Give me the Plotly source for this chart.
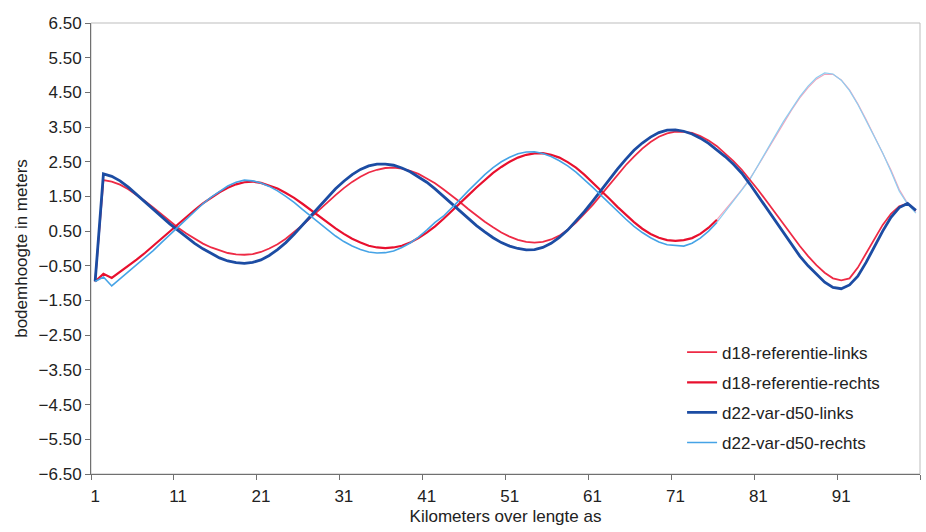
import plotly.graph_objects as go

km = list(range(1, 101))

d18_referentie_links = [
    -0.95, 1.97, 1.93, 1.84, 1.71, 1.55, 1.37, 1.18, 0.98, 0.79,
    0.60, 0.43, 0.28, 0.14, 0.03, -0.06, -0.13, -0.17, -0.18, -0.16,
    -0.10, 0.00, 0.12, 0.28, 0.47, 0.67, 0.89, 1.11, 1.33, 1.54,
    1.74, 1.92, 2.07, 2.19, 2.27, 2.32, 2.33, 2.30, 2.24, 2.15,
    2.02, 1.88, 1.71, 1.53, 1.34, 1.14, 0.95, 0.77, 0.61, 0.46,
    0.34, 0.25, 0.19, 0.17, 0.19, 0.26, 0.37, 0.54, 0.75, 0.99,
    1.25, 1.54, 1.83, 2.12, 2.40, 2.65, 2.88, 3.07, 3.22, 3.32,
    3.37, 3.36, 3.33, 3.24, 3.11, 2.95, 2.74, 2.52, 2.27, 1.98,
    1.68, 1.36, 1.03, 0.70, 0.38, 0.07, -0.22, -0.48, -0.70, -0.86,
    -0.92, -0.86, -0.55, -0.15, 0.28, 0.68, 1.00, 1.22, 1.30, 1.10,
]

d18_referentie_rechts = [
    -0.95, -0.73, -0.85, -0.68, -0.50, -0.32, -0.13, 0.07, 0.28, 0.49,
    0.70, 0.91, 1.11, 1.30, 1.47, 1.62, 1.75, 1.85, 1.91, 1.93,
    1.89, 1.82, 1.73, 1.60, 1.46, 1.29, 1.11, 0.93, 0.75, 0.58,
    0.42, 0.28, 0.17, 0.08, 0.03, 0.01, 0.03, 0.08, 0.17, 0.30,
    0.46, 0.64, 0.85, 1.07, 1.30, 1.53, 1.76, 1.98, 2.18, 2.35,
    2.50, 2.62, 2.70, 2.74, 2.75, 2.70, 2.62, 2.49, 2.33, 2.13,
    1.91, 1.68, 1.44, 1.20, 0.97, 0.76, 0.57, 0.42, 0.31, 0.24,
    0.22, 0.24, 0.30, 0.42, 0.60, 0.83, 1.10, 1.40, 1.70, 2.02,
    2.40, 2.80, 3.21, 3.61, 3.99, 4.34, 4.64, 4.88, 5.02, 5.02,
    4.86, 4.57, 4.17, 3.72, 3.24, 2.77, 2.26, 1.70, 1.30, 1.04,
]

d22_var_d50_links = [
    -0.95, 2.15, 2.08, 1.95, 1.77, 1.56, 1.34, 1.12, 0.91, 0.71,
    0.52, 0.33, 0.15, -0.01, -0.15, -0.27, -0.36, -0.41, -0.43, -0.40,
    -0.33, -0.20, -0.03, 0.17, 0.41, 0.67, 0.94, 1.21, 1.47, 1.72,
    1.94, 2.13, 2.28, 2.38, 2.43, 2.43, 2.40, 2.32, 2.21, 2.07,
    1.91, 1.72, 1.51, 1.30, 1.08, 0.87, 0.66, 0.48, 0.31, 0.17,
    0.07, 0.00, -0.04, -0.03, 0.03, 0.15, 0.32, 0.53, 0.78, 1.06,
    1.36, 1.67, 1.99, 2.29, 2.57, 2.83, 3.04, 3.21, 3.34, 3.41,
    3.42, 3.38, 3.30, 3.18, 3.03, 2.85, 2.65, 2.43, 2.17, 1.85,
    1.50, 1.15, 0.80, 0.45, 0.10, -0.22, -0.50, -0.75, -0.97, -1.12,
    -1.16, -1.05, -0.80, -0.40, 0.05, 0.50, 0.90, 1.18, 1.30, 1.10,
]

d22_var_d50_rechts = [
    -0.95, -0.82, -1.08, -0.88, -0.68, -0.48, -0.28, -0.06, 0.17, 0.40,
    0.63, 0.86, 1.08, 1.29, 1.48, 1.65, 1.80, 1.91, 1.97, 1.95,
    1.89, 1.79, 1.66, 1.50, 1.33, 1.13, 0.94, 0.74, 0.54, 0.36,
    0.20, 0.07, -0.03, -0.10, -0.13, -0.12, -0.07, 0.03, 0.16, 0.33,
    0.53, 0.75, 0.93, 1.16, 1.41, 1.66, 1.90, 2.13, 2.33, 2.50,
    2.63, 2.73, 2.78, 2.79, 2.74, 2.65, 2.53, 2.38, 2.20, 1.99,
    1.77, 1.54, 1.30, 1.07, 0.85, 0.64, 0.46, 0.31, 0.19, 0.11,
    0.08, 0.07, 0.15, 0.30, 0.50, 0.75, 1.05, 1.36, 1.68, 2.00,
    2.40, 2.82, 3.24, 3.65, 4.03, 4.38, 4.68, 4.92, 5.06, 5.03,
    4.85, 4.55, 4.15, 3.68, 3.20, 2.75, 2.22, 1.65, 1.28, 1.02,
]

x_tick_labels = ["1", "11", "21", "31", "41", "51", "61", "71", "81", "91"]
y_tick_values = [6.5, 5.5, 4.5, 3.5, 2.5, 1.5, 0.5, -0.5, -1.5, -2.5, -3.5, -4.5, -5.5, -6.5]

FADE = 75  # index from which the scanned upper curve looks faded

fig = go.Figure()

# faded tails (scan artefact) of the upper curve, drawn below
fig.add_trace(go.Scatter(x=km[FADE:], y=d18_referentie_rechts[FADE:], mode="lines",
                         line=dict(color="#f2a4bd", width=1.2), showlegend=False,
                         hoverinfo="skip"))
fig.add_trace(go.Scatter(x=km[FADE:], y=d22_var_d50_rechts[FADE:], mode="lines",
                         line=dict(color="#8fcdf0", width=1.2), showlegend=False,
                         hoverinfo="skip"))

fig.add_trace(go.Scatter(x=km, y=d18_referentie_links, mode="lines",
                         name="d18-referentie-links", legendgroup="a",
                         line=dict(color="#ee2a45", width=1.8)))
fig.add_trace(go.Scatter(x=km[:FADE + 1], y=d18_referentie_rechts[:FADE + 1], mode="lines",
                         name="d18-referentie-rechts", legendgroup="b",
                         line=dict(color="#e8102e", width=2.2)))
fig.add_trace(go.Scatter(x=km, y=d22_var_d50_links, mode="lines",
                         name="d22-var-d50-links", legendgroup="c",
                         line=dict(color="#1c4ca3", width=2.8)))
fig.add_trace(go.Scatter(x=km[:FADE + 1], y=d22_var_d50_rechts[:FADE + 1], mode="lines",
                         name="d22-var-d50-rechts", legendgroup="d",
                         line=dict(color="#45a3e6", width=1.6)))

fig.update_layout(
    width=926, height=532,
    margin=dict(l=91, r=6, t=23, b=58),
    paper_bgcolor="white", plot_bgcolor="white",
    font=dict(family="Liberation Sans, Arial, sans-serif", size=17, color="#222222"),
    legend=dict(x=0.713, y=0.309, xanchor="left", yanchor="top",
                bgcolor="rgba(255,255,255,0)", borderwidth=0,
                font=dict(size=17), traceorder="grouped", tracegroupgap=5,
                itemwidth=30),
    shapes=[dict(type="rect", xref="paper", yref="paper", x0=0, y0=0, x1=1, y1=1,
                 line=dict(color="#bdbdbd", width=1), layer="below")],
)

fig.update_xaxes(
    range=[0.5, 100.5],
    tickmode="array", tickvals=[int(t) for t in x_tick_labels], ticktext=x_tick_labels,
    ticks="", showgrid=False, zeroline=False, ticklabelstandoff=7,
    showline=True, linecolor="#707070", linewidth=1,
    minor=dict(tickmode="array", tickvals=[0.5 + 10 * i for i in range(11)],
               ticks="outside", ticklen=5, tickcolor="#707070", showgrid=False),
    title=dict(text="Kilometers over lengte as", font=dict(size=17), standoff=4),
)

fig.update_yaxes(
    range=[-6.5, 6.5],
    tickmode="array", tickvals=y_tick_values, tickformat=".2f",
    ticks="outside", ticklen=5, tickcolor="#707070",
    showgrid=False, zeroline=False,
    showline=True, linecolor="#707070", linewidth=1,
    title=dict(text="bodemhoogte in meters", font=dict(size=17), standoff=6),
)

fig.write_html("out.html")
